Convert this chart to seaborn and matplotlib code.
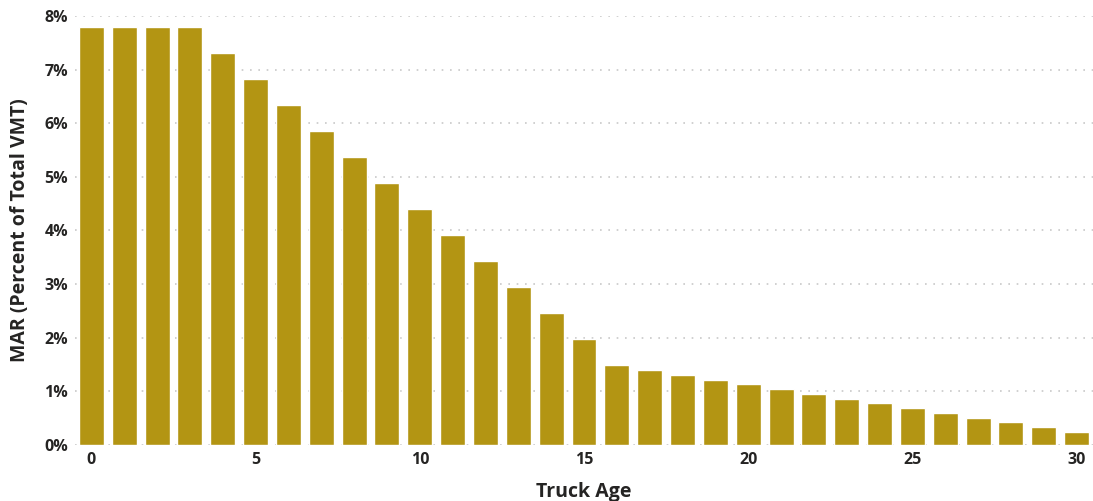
import numpy as np
import pandas as pd
import matplotlib
matplotlib.use("Agg")
import matplotlib.pyplot as plt
import seaborn as sns

# Truck age (years) and MAR share of total VMT (%)
truck_age = list(range(31))
mar_pct = [7.80, 7.80, 7.80, 7.80, 7.31, 6.83, 6.34, 5.86, 5.37, 4.89,
           4.40, 3.92, 3.43, 2.95, 2.46, 1.98, 1.49, 1.40, 1.31, 1.22,
           1.13, 1.04, 0.95, 0.86, 0.78, 0.69, 0.60, 0.51, 0.42, 0.33,
           0.24]
y_ticks = [0, 1, 2, 3, 4, 5, 6, 7, 8]
x_ticks = [0, 5, 10, 15, 20, 25, 30]

bar_color = "#B39513"

sns.set_theme(style="white")
plt.rcParams["font.family"] = ["Open Sans", "DejaVu Sans"]

df = pd.DataFrame({"age": truck_age, "mar": mar_pct})

fig = plt.figure(figsize=(10.93, 5.01), dpi=100)
ax = fig.add_axes([0.0686, 0.1118, 0.9314, 0.8564])

sns.barplot(data=df, x="age", y="mar", color=bar_color, saturation=1,
            width=0.76, ax=ax, zorder=2)

ax.set_xlim(-0.5, 30.5)
ax.set_ylim(0, 8)
ax.set_yticks(y_ticks)
ax.set_yticklabels([f"{v}%" for v in y_ticks], fontweight="bold", fontsize=11.5, color="#252423")
ax.set_xticks(x_ticks)
ax.set_xticklabels([str(v) for v in x_ticks], fontweight="bold", fontsize=11.5, color="#252423")
ax.tick_params(axis="x", length=0, pad=5)
ax.tick_params(axis="y", length=0, pad=5)

ax.grid(axis="y", linestyle=(0, (1, 4)), color="#c8c8c8", linewidth=1.2, zorder=0)
ax.set_axisbelow(True)
for s in ax.spines.values():
    s.set_visible(False)

ax.set_xlabel("Truck Age", fontweight="bold", fontsize=14, color="#252423", labelpad=10)
ax.set_ylabel("MAR (Percent of Total VMT)", fontweight="bold", fontsize=14, color="#252423", labelpad=10)

fig.savefig("out.png", dpi=100)
